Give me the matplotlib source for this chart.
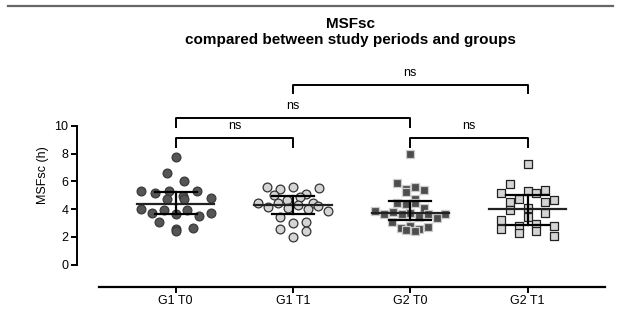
import numpy as np
import matplotlib.pyplot as plt
from matplotlib.lines import Line2D

groups = ["G1 T0", "G1 T1", "G2 T0", "G2 T1"]

g1_t0 = [7.77, 6.58, 6.02, 5.30, 5.30, 5.30, 5.13, 4.96, 4.77, 4.70, 4.70,
         3.98, 3.93, 3.93, 3.74, 3.69, 3.62, 3.50, 3.09, 2.61, 2.54, 2.44]
g1_t1 = [5.61, 5.61, 5.49, 5.42, 5.08, 5.01, 4.84, 4.65, 4.46, 4.41, 4.41,
         4.29, 4.24, 4.17, 4.05, 4.00, 3.86, 3.45, 3.09, 3.01, 2.54, 2.44, 2.00]
g2_t0 = [7.97, 5.90, 5.57, 5.42, 5.37, 5.21, 4.70, 4.46, 4.41, 4.34, 4.05,
         3.86, 3.81, 3.74, 3.64, 3.64, 3.64, 3.64, 3.45, 3.33, 3.09, 2.80,
         2.68, 2.65, 2.54, 2.49, 2.44]
g2_t1 = [7.25, 5.78, 5.37, 5.30, 5.18, 5.13, 4.70, 4.65, 4.53, 4.48, 4.10,
         3.93, 3.74, 3.45, 3.21, 2.92, 2.78, 2.78, 2.54, 2.44, 2.25, 2.06]

data = [g1_t0, g1_t1, g2_t0, g2_t1]
markers = ["o", "o", "s", "s"]
faces = ["#555555", "#d4d4d4", "#4d4d4d", "#d4d4d4"]
edges = ["#3a3a3a", "#333333", "#cccccc", "#222222"]
# horizontal spacing (px) between points sharing a row
row_step = [17, 13, 9, 17.5]

# significance brackets: (left group, right group, height, label)
brackets = [(0, 1, 9.1, "ns"), (2, 3, 9.1, "ns"), (0, 2, 10.55, "ns"), (1, 3, 12.95, "ns")]

fig = plt.figure(figsize=(6.21, 3.2), dpi=100)
ax = fig.add_axes([99 / 621, 33.3 / 320, 506 / 621, (286.7 - 63.4) / 320])
ax.set_xlim(-0.654, 3.66)
ax.set_ylim(-1.6, 14.5)

# pixel scale, used for the scatter layout
px_x = 117.3
px_y = 13.87


def rows_layout(vals, step, row_h=8.3, half_w=35):
    # prism-like: bin points in rows, spread each row across the column
    order = np.argsort(vals)[::-1]
    offs = np.zeros(len(vals))
    i = 0
    while i < len(order):
        top = vals[order[i]]
        j = i
        while j < len(order) and (top - vals[order[j]]) * px_y < row_h:
            j += 1
        n = j - i
        w = min(half_w, (n - 1) * step / 2)
        pos = np.linspace(-w, w, n) if n > 1 else np.array([0.0])
        # interleave so values are not sorted left to right
        perm = list(range(0, n, 2)) + list(range(1, n, 2))
        for k, idx in enumerate(order[i:j]):
            offs[idx] = pos[perm[k]] / px_x
        i = j
    return offs


for i, vals in enumerate(data):
    vals = np.array(vals)
    offs = rows_layout(vals, row_step[i])
    ax.scatter(i + offs, vals, s=40, marker=markers[i], facecolor=faces[i],
               edgecolor=edges[i], linewidth=0.9, zorder=2)
    med = np.median(vals)
    q1, q3 = np.percentile(vals, [25, 75])
    ax.plot([i - 0.33, i + 0.33], [med, med], color="#222222", lw=1.6, zorder=3)
    ax.plot([i, i], [q1, q3], color="black", lw=1.6, zorder=3)
    ax.plot([i - 0.18, i + 0.18], [q1, q1], color="black", lw=1.6, zorder=3)
    ax.plot([i - 0.18, i + 0.18], [q3, q3], color="black", lw=1.6, zorder=3)

for a, b, h, lab in brackets:
    ax.plot([a, a, b, b], [h - 0.6, h, h, h - 0.6], color="black", lw=1.4,
            clip_on=False)
    ax.text((a + b) / 2, h + 0.45, lab, ha="center", va="bottom", fontsize=9,
            family="Liberation Sans")

ax.spines["top"].set_visible(False)
ax.spines["right"].set_visible(False)
ax.spines["left"].set_position(("outward", 16))
ax.spines["left"].set_bounds(0, 10)
ax.spines["left"].set_linewidth(1.4)
ax.spines["bottom"].set_linewidth(1.6)
ax.set_yticks([0, 2, 4, 6, 8, 10])
ax.set_xticks(range(4))
ax.set_xticklabels(groups)
ax.tick_params(axis="both", length=4, width=1.4, labelsize=9, pad=2)
for t in ax.get_xticklabels() + ax.get_yticklabels():
    t.set_family("Liberation Sans")
ax.set_ylabel("MSFsc (h)", fontsize=9, family="Liberation Sans", labelpad=4)

fig.text(0.565, 1 - 24 / 320, "MSFsc", ha="center", va="center", fontsize=11,
         fontweight="bold", family="Liberation Sans")
fig.text(0.565, 1 - 40 / 320, "compared between study periods and groups",
         ha="center", va="center", fontsize=11, fontweight="bold",
         family="Liberation Sans")

fig.add_artist(Line2D([8 / 621, 613 / 621], [1 - 5.7 / 320, 1 - 5.7 / 320],
                      color="#666666", lw=1.6))

fig.savefig("out.png", dpi=100)
